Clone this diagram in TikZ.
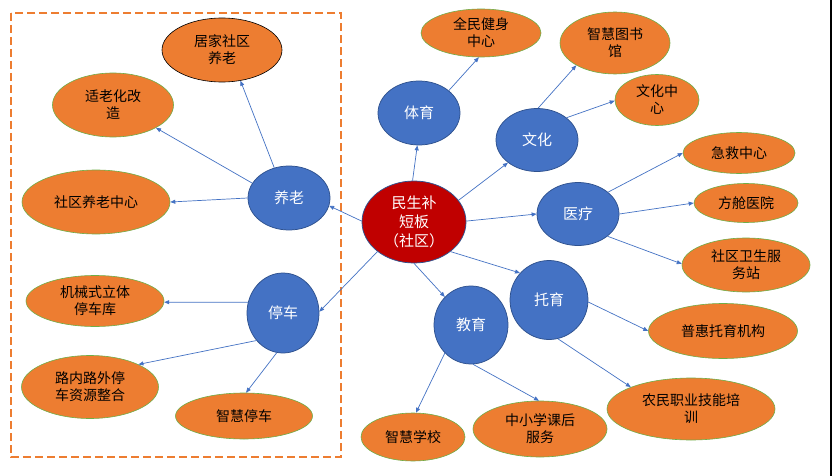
\documentclass[tikz,border=0pt]{standalone}
\usepackage{fontspec}
\setmainfont{Noto Sans CJK SC}
\usetikzlibrary{shapes.geometric,arrows.meta}
\definecolor{myorange}{HTML}{ED7D31}
\definecolor{myblue}{HTML}{4472C4}
\definecolor{mydarkblue}{HTML}{2F528F}
\definecolor{myred}{HTML}{C00000}
\definecolor{mygreen}{HTML}{70AD47}
\tikzset{
  leaf/.style={ellipse, fill=myorange, draw=mygreen, line width=0.6pt, inner sep=0pt, align=center,
    font=\fontsize{14}{17}\selectfont, text=black},
  hub/.style={ellipse, fill=myblue, draw=mydarkblue, line width=0.75pt, inner sep=0pt, align=center,
    font=\fontsize{15}{18}\selectfont, text=white},
  core/.style={ellipse, fill=myred, draw=mydarkblue, line width=0.75pt, inner sep=0pt, align=center,
    font=\fontsize{15}{19}\selectfont, text=white},
  sz/.style 2 args={minimum width=#1pt, minimum height=#2pt},
  conn/.style={draw=myblue, line width=0.7pt, -{Triangle[length=5pt,width=4pt]}},
  groupbox/.style={draw=myorange, line width=2.5pt, dash pattern=on 8pt off 4pt}
}
\begin{document}
\begin{tikzpicture}[x=1pt,y=-1pt]
\useasboundingbox (0,0) rectangle (832,476);
\fill[white] (0,0) rectangle (832,476);
\draw[line width=1.5pt, black] (831,0) -- (831,476);
\draw[groupbox] (11,13) rectangle (341,457);

% core
\node[core, sz={104}{82}] (C) at (414,222) {民生补\\短板\\（社区）};

% hubs
\node[hub, sz={82}{64}] (Y) at (289,198) {养老};
\node[hub, sz={82}{64}] (T) at (419,113) {体育};
\node[hub, sz={82}{63}] (W) at (537,140) {文化};
\node[hub, sz={82}{63}] (M) at (578,214) {医疗};
\node[hub, sz={78}{79}] (U) at (549,300) {托育};
\node[hub, sz={74}{78}] (V) at (471,325) {教育};
\node[hub, sz={72}{80}] (P) at (283,313) {停车};

% leaves
\node[leaf, draw=black, sz={120}{64}] (J) at (222,50) {居家社区\\养老};
\node[leaf, sz={121}{64}] (S) at (113,105) {适老化改\\造};
\node[leaf, sz={148}{64}] (Z) at (96,202) {社区养老中心};
\node[leaf, sz={138}{51}] (A) at (95,301) {机械式立体\\停车库};
\node[leaf, sz={137}{63}] (R) at (90,387) {路内路外停\\车资源整合};
\node[leaf, sz={137}{46}] (Q2) at (244,416) {智慧停车};
\node[leaf, sz={104}{48}] (X) at (413,437) {智慧学校};
\node[leaf, sz={134}{56}] (K) at (540,429) {中小学课后\\服务};
\node[leaf, sz={168}{62}] (N) at (691,409) {农民职业技能培\\训};
\node[leaf, sz={149}{55}] (B) at (723,331) {普惠托育机构};
\node[leaf, sz={128}{54}] (D) at (746,265) {社区卫生服\\务站};
\node[leaf, sz={104}{39}] (F) at (746,203) {方舱医院};
\node[leaf, sz={112}{41}] (E) at (739,153) {急救中心};
\node[leaf, sz={84}{51}] (H) at (657,100) {文化中\\心};
\node[leaf, sz={110}{62}] (G) at (615,43) {智慧图书\\馆};
\node[leaf, sz={120}{48}] (Q) at (481,33) {全民健身\\中心};

% connectors
\draw[conn] (C.179) -- (Y.-11);
\draw[conn] (Y.116) -- (J.-59);
\draw[conn] (Y.158) -- (S.-28);
\draw[conn] (Y.180) -- (Z.0);
\draw[conn] (C.92) -- (T.-93);
\draw[conn] (T.37) -- (Q.-95);
\draw[conn] (C.26) -- (W.-142);
\draw[conn] (W.88) -- (G.-150);
\draw[conn] (W.37) -- (H.181);
\draw[conn] (C.1) -- (M.180);
\draw[conn] (M.36) -- (E.180);
\draw[conn] (M.0) -- (F.180);
\draw[conn] (M.-37) -- (D.179);
\draw[conn] (C.-39) -- (U.137);
\draw[conn] (C.-90) -- (V.133);
\draw[conn] (C.-141) -- (P.2);
\draw[conn] (U.-3) -- (B.180);
\draw[conn] (U.-77) -- (N.160);
\draw[conn] (V.-133) -- (X.83);
\draw[conn] (V.-87) -- (K.92);
\draw[conn] (P.163) -- (A.-1);
\draw[conn] (P.-134) -- (R.25);
\draw[conn] (P.-99) -- (Q2.85);
\end{tikzpicture}
\end{document}
